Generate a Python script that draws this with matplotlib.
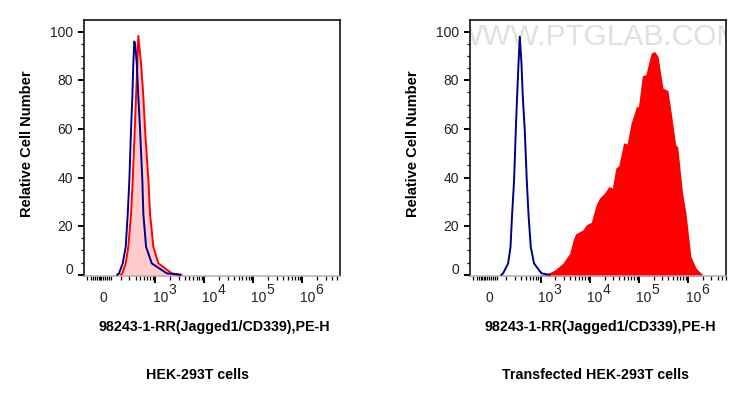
import numpy as np
import matplotlib
matplotlib.use("Agg")
import matplotlib.pyplot as plt

plt.rcParams['font.family'] = ['Liberation Sans', 'DejaVu Sans']

W, H = 747, 412

# x values are positions on the biexponential axis, in decades (3 = 10^3)
ctrl_left_x = [2.23, 2.267, 2.342, 2.403, 2.444, 2.477, 2.511, 2.538, 2.558, 2.578, 2.60, 2.627, 2.66, 2.695, 2.741, 2.762, 2.817, 2.933, 3.238, 3.51]
ctrl_left_y = [0, 0.6, 4.7, 11.5, 25, 39, 59.6, 73.3, 87, 96, 94, 87, 73.3, 59.6, 39, 25, 11.5, 4.7, 0.6, 0]
stain_left_x = [2.30, 2.334, 2.403, 2.456, 2.511, 2.546, 2.587, 2.613, 2.64, 2.66, 2.69, 2.715, 2.762, 2.796, 2.864, 2.898, 2.965, 3.067, 3.34, 3.54]
stain_left_y = [0, 0.6, 4.7, 11.5, 25, 39, 59.6, 73.3, 87, 98.3, 92, 87, 73.3, 59.6, 39, 25, 11.5, 4.7, 0.6, 0]

ctrl_right_x = [2.20, 2.235, 2.337, 2.385, 2.418, 2.458, 2.493, 2.519, 2.548, 2.574, 2.608, 2.635, 2.675, 2.716, 2.751, 2.797, 2.864, 3.014, 3.18]
ctrl_right_y = [0, 0.6, 4.7, 11.5, 25, 39, 59.6, 73.3, 87, 98, 87, 73.3, 59.6, 39, 25, 11.5, 4.7, 0.6, 0]
stain_right_x = [3.00, 3.12, 3.28, 3.45, 3.59, 3.66, 3.71, 3.86, 3.93, 4.03, 4.13, 4.20, 4.30, 4.39, 4.46, 4.53, 4.59, 4.69, 4.76, 4.84, 4.95, 4.99, 5.07, 5.14, 5.25, 5.32, 5.39, 5.49, 5.59, 5.66, 5.75, 5.79, 5.89, 5.96, 6.06, 6.17, 6.30]
stain_right_y = [0, 0.3, 1.9, 4.7, 8.8, 14.3, 16.8, 18.5, 20.6, 21.6, 28.8, 31.6, 33.6, 36.3, 35.7, 43.9, 44.9, 54.3, 53.8, 62.3, 69.2, 69.2, 81.9, 82.3, 91.2, 91.9, 89.8, 76.8, 75.8, 66.5, 53.4, 52.7, 33.5, 25.2, 7.4, 2.6, 0]

y_major = [0, 20, 40, 60, 80, 100]
x_decades = [3, 4, 5, 6]
x_exponents = ['3', '4', '5', '6']
x_zero_pos = 1.95
near_zero_ticks = [1.62, 1.70, 1.74, 1.78, 1.81, 1.85, 1.87, 1.90, 1.94, 1.98, 2.02, 2.07, 2.11]
x_label = '98243-1-RR(Jagged1/CD339),PE-H'
y_label = 'Relative Cell Number'
titles = ['HEK-293T cells', 'Transfected HEK-293T cells']
watermark = 'WWW.PTGLAB.COM'

BLUE = '#00008b'
RED = '#ff0000'
PINK = '#ffcccc'
TXT = '#222222'
BASE = '#c0a4b8'

fig = plt.figure(figsize=(W / 100, H / 100), dpi=100)


def make_axes(px_left, px_right, xlim):
    ax = fig.add_axes([px_left / W, 1 - 276 / H, (px_right - px_left) / W, (276 - 20.3) / H])
    ax.set_xlim(*xlim)
    ax.set_ylim(-0.5, 104.7)
    for s in ax.spines.values():
        s.set_linewidth(1.1)
        s.set_color('black')
    ax.spines['bottom'].set_color(BASE)
    ax.set_yticks(y_major)
    ax.set_yticks(np.arange(0, 105, 5), minor=True)
    ax.tick_params(axis='y', which='major', length=4.5, width=1.4, labelleft=False)
    ax.tick_params(axis='y', which='minor', length=2.4, width=0.9)
    ax.set_xticks(x_decades)
    minor = list(near_zero_ticks)
    for d in [2, 3, 4, 5, 6]:
        for m in range(2, 10):
            v = d + np.log10(m)
            if 2.25 < v < xlim[1]:
                minor.append(v)
    ax.set_xticks(minor, minor=True)
    ax.tick_params(axis='x', which='major', length=5, width=1.4, labelbottom=False)
    ax.tick_params(axis='x', which='minor', length=2.8, width=0.9)

    # tick labels
    for v in y_major:
        dy = 5 if v == 0 else -1
        ax.annotate(str(v), xy=(0, v), xycoords=('axes fraction', 'data'),
                    xytext=(-11.5, dy), textcoords='offset pixels',
                    ha='right', va='center', fontsize=10, color=TXT)
    ax.annotate('0', xy=(x_zero_pos, 0), xycoords=('data', 'axes fraction'),
                xytext=(0, -22.5), textcoords='offset pixels',
                ha='center', va='center', fontsize=10, color=TXT)
    for d, e in zip(x_decades, x_exponents):
        ax.annotate('10', xy=(d, 0), xycoords=('data', 'axes fraction'),
                    xytext=(-2.5, -22.5), textcoords='offset pixels',
                    ha='left', va='center', fontsize=10, color=TXT)
        ax.annotate(e, xy=(d, 0), xycoords=('data', 'axes fraction'),
                    xytext=(13, -13.5), textcoords='offset pixels',
                    ha='left', va='center', fontsize=10, color=TXT)
    return ax


# left panel
ax1 = make_axes(84.3, 340.3, (1.56, 6.77))
ax1.fill_between(stain_left_x, stain_left_y, -0.5, color=PINK, lw=0, zorder=1)
ax1.plot(stain_left_x, stain_left_y, color=RED, lw=1.4, zorder=2)
ax1.plot(ctrl_left_x, ctrl_left_y, color=BLUE, lw=1.4, zorder=3)

# right panel
ax2 = make_axes(470.3, 726.3, (1.566, 6.78))
ax2.text(0.5, 0.935, watermark, transform=ax2.transAxes, ha='center', va='center',
         fontsize=21.5, color='#e0e0e0', zorder=0, clip_on=True)
ax2.fill_between(stain_right_x, stain_right_y, -0.5, color=RED, lw=0, zorder=1)
ax2.plot(ctrl_right_x, ctrl_right_y, color=BLUE, lw=1.4, zorder=3)

# bold labels placed in figure pixels
for cx, ylx, tcx, title in [(214, 27, 197, titles[0]), (600, 413, 595.5, titles[1])]:
    fig.text(cx / W, 1 - 327 / H, x_label, ha='center', va='center',
             fontsize=10.3, fontweight='bold', color='black')
    fig.text(ylx / W, 1 - 143.5 / H, y_label, rotation=90, ha='center', va='center',
             fontsize=10.5, fontweight='bold', color='black')
    fig.text(tcx / W, 1 - 375 / H, title, ha='center', va='center',
             fontsize=10.3, fontweight='bold', color='black')

fig.savefig('out.png', dpi=100)
